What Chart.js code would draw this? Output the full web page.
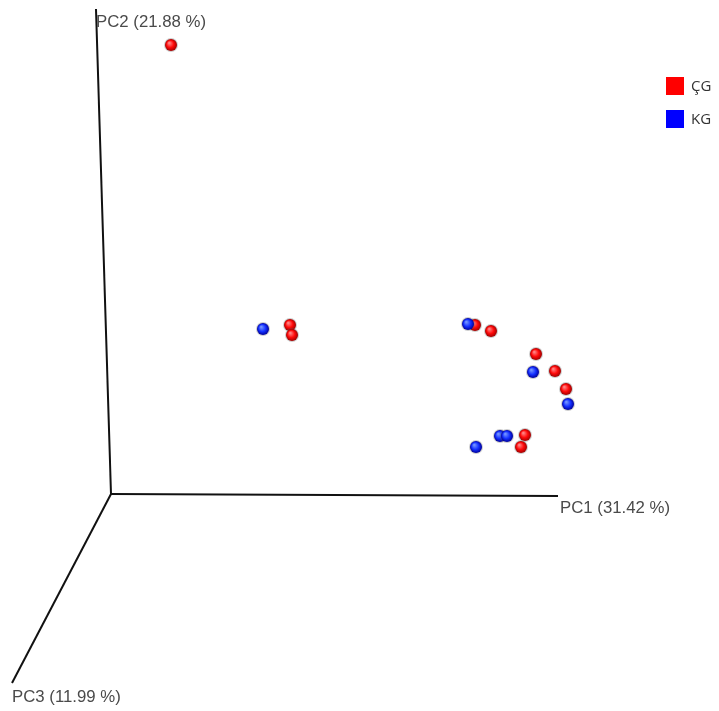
<!DOCTYPE html>
<html>
<head>
<meta charset="utf-8">
<script src="https://cdn.jsdelivr.net/npm/chart.js@4/dist/chart.umd.min.js"></script>
<style>
  html, body { margin: 0; padding: 0; background: #fff; }
  #wrap { width: 719px; height: 711px; position: relative; }
</style>
</head>
<body>
<div id="wrap"><canvas id="c" width="719" height="711"></canvas></div>
<script>
// PCoA biplot (3D view, projected). Coordinates are screen-projected units, origin = axes origin.
const GROUPS = ["ÇG", "KG"];
const GROUP_COLORS = ["#ff0000", "#0000ff"];

// projected positions of samples
const CG_X = [0.60, 1.79, 1.81, 3.64, 3.80, 4.25, 4.44, 4.55, 4.14, 4.10];
const CG_Y = [4.49, 1.69, 1.59, 1.69, 1.63, 1.40, 1.23, 1.05, 0.59, 0.47];
const KG_X = [1.52, 3.57, 4.22, 4.57, 3.89, 3.96, 3.65];
const KG_Y = [1.65, 1.70, 1.22, 0.90, 0.58, 0.58, 0.47];

// projected axis ends (origin at 0,0) and their labels
const AXIS_LABELS = ["PC1 (31.42 %)", "PC2 (21.88 %)", "PC3 (11.99 %)"];
const AXIS_END_X = [4.47, -0.15, -0.99];
const AXIS_END_Y = [-0.02, 4.85, -1.89];

// visible window of the projection
const VIEW_X = [-1.11, 6.08];
const VIEW_Y = [-2.17, 4.94];

// shaded sphere sprite used as point style
function sphere(base, light, dark, r) {
  const s = Math.ceil(r * 2 + 4), cv = document.createElement("canvas");
  cv.width = s; cv.height = s;
  const g = cv.getContext("2d"), c = s / 2;
  // soft grey halo like the 3D renderer
  g.beginPath(); g.arc(c, c, r + 1, 0, Math.PI * 2);
  g.fillStyle = "rgba(90,90,90,0.3)"; g.fill();
  const grd = g.createRadialGradient(c - r * 0.3, c - r * 0.35, r * 0.1, c, c, r);
  grd.addColorStop(0, light); grd.addColorStop(0.55, base); grd.addColorStop(1, dark);
  g.beginPath(); g.arc(c, c, r, 0, Math.PI * 2);
  g.fillStyle = grd; g.fill();
  return cv;
}
const SPRITES = [
  sphere("#ff0a0a", "#ff8080", "#a00000", 6),
  sphere("#1430ff", "#7090ff", "#00009a", 6),
];

const pts = (xs, ys) => xs.map((x, i) => ({ x, y: ys[i] }));
const axisSets = AXIS_END_X.map((ex, i) => ({
  type: "line", label: AXIS_LABELS[i], data: [{ x: 0, y: 0 }, { x: ex, y: AXIS_END_Y[i] }],
  borderColor: "#111", borderWidth: 2, pointRadius: 0, order: 5,
}));

// axis captions, anchored to the axis end points
const axisText = {
  id: "axisText",
  afterDatasetsDraw(chart) {
    const { ctx, scales: { x, y } } = chart;
    ctx.save();
    ctx.font = "16.8px 'Liberation Sans', Arial, sans-serif";
    ctx.fillStyle = "#4a4a4a";
    ctx.textBaseline = "alphabetic";
    const off = [[2, 17], [0, 18], [0, 19]];
    AXIS_LABELS.forEach((t, i) => {
      ctx.fillText(t, x.getPixelForValue(AXIS_END_X[i]) + off[i][0], y.getPixelForValue(AXIS_END_Y[i]) + off[i][1]);
    });
    ctx.restore();
  },
};

// legend in top right corner
const legendBox = {
  id: "legendBox",
  afterDraw(chart) {
    const ctx = chart.ctx;
    ctx.save();
    ctx.font = "15px 'Open Sans', sans-serif";
    ctx.textBaseline = "middle";
    GROUPS.forEach((g, i) => {
      const top = 77 + i * 33;
      ctx.fillStyle = GROUP_COLORS[i];
      ctx.fillRect(666, top, 18, 18);
      ctx.fillStyle = "#333";
      ctx.fillText(g, 691, top + 10);
    });
    ctx.restore();
  },
};

new Chart(document.getElementById("c"), {
  type: "scatter",
  data: {
    datasets: [
      ...axisSets,
      { label: GROUPS[0], data: pts(CG_X, CG_Y), pointStyle: SPRITES[0], pointRadius: 1, order: 2 },
      { label: GROUPS[1], data: pts(KG_X, KG_Y), pointStyle: SPRITES[1], pointRadius: 1, order: 1 },
    ],
  },
  options: {
    responsive: false, animation: false,
    layout: { padding: 0, autoPadding: false },
    plugins: { legend: { display: false }, tooltip: { enabled: false } },
    scales: {
      x: { type: "linear", min: VIEW_X[0], max: VIEW_X[1], display: false },
      y: { type: "linear", min: VIEW_Y[0], max: VIEW_Y[1], display: false },
    },
  },
  plugins: [axisText, legendBox],
});
</script>
</body>
</html>
